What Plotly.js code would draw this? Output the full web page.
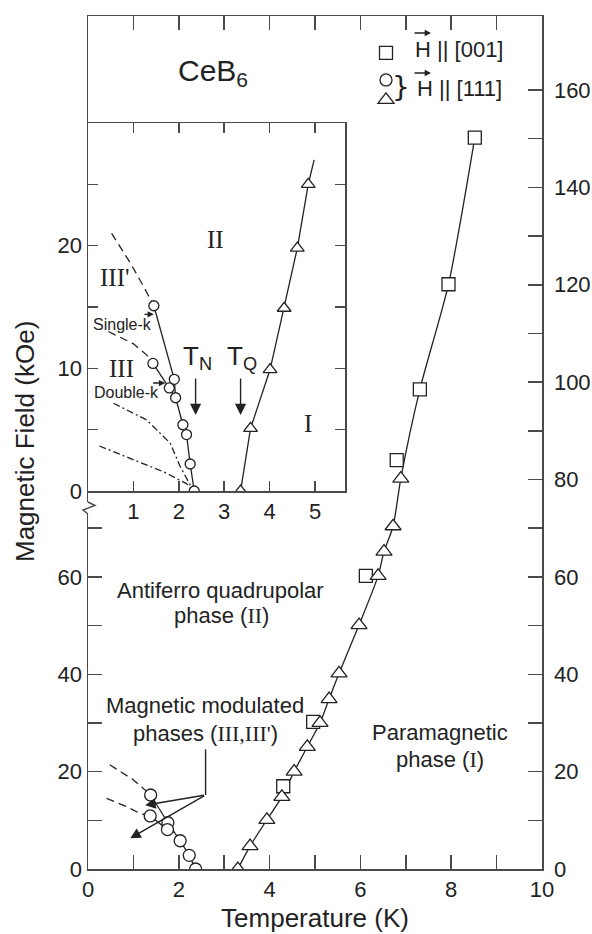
<!DOCTYPE html>
<html><head><meta charset="utf-8">
<script src="https://cdn.plot.ly/plotly-3.0.1.min.js"></script>
<style>body{margin:0;background:#fff}</style>
</head><body><div id="chart" style="width:592px;height:934px"></div>
<script>
// ---------- main panel (Temperature K, Field kOe) ----------
const sqT  = [4.30, 4.96, 6.12, 6.80, 7.31, 7.94, 8.52];          // H || [001]
const sqH  = [17.0, 30.2, 60.2, 84.0, 98.5, 120.1, 150.2];
const triT = [3.30, 3.57, 3.94, 4.27, 4.54, 4.83, 5.11, 5.31, 5.53, 5.97, 6.39, 6.52, 6.72, 6.89]; // H || [111]
const triH = [0, 4.7, 10.1, 14.8, 20.0, 25.1, 30.0, 34.9, 40.2, 50.1, 60.2, 65.2, 70.4, 80.2];
const cirT = [1.38, 1.37, 1.76, 1.75, 2.03, 2.23, 2.37];             // H || [111]
const cirH = [15.2, 10.9, 9.5, 8.1, 5.8, 2.8, 0];
// phase boundaries (main)
const tqT  = [3.30, 3.57, 3.94, 4.27, 4.54, 4.83, 5.11, 5.31, 5.53, 5.97, 6.39, 6.52, 6.72, 6.89, 7.31, 7.94, 8.52];
const tqH  = [0, 4.7, 10.1, 14.8, 20.0, 25.1, 30.0, 34.9, 40.2, 50.1, 60.2, 65.2, 70.4, 80.2, 98.5, 120.1, 150.2];
const tnT  = [1.38, 1.76, 2.03, 2.23, 2.37];
const tnH  = [15.2, 9.5, 5.8, 2.8, 0];
const tn2T = [1.37, 1.75, 1.91];
const tn2H = [10.9, 8.1, 7.5];
const dashAT = [0.48, 1.00, 1.26, 1.38];
const dashAH = [21.4, 18.3, 16.2, 15.2];
const dashBT = [0.41, 0.85, 1.15, 1.37];
const dashBH = [14.5, 12.8, 11.4, 10.9];

// ---------- inset (low field) ----------
const inCirT = [1.45, 1.43, 1.90, 1.79, 1.93, 2.09, 2.17, 2.25, 2.34];
const inCirH = [15.1, 10.4, 9.1, 8.4, 7.6, 5.4, 4.6, 2.2, 0];
const inTriT = [3.36, 3.58, 4.01, 4.32, 4.61, 4.85];
const inTriH = [0, 5.1, 9.9, 14.9, 19.8, 25.0];
const inTqT  = [3.36, 3.58, 4.01, 4.32, 4.61, 4.85, 4.98];
const inTqH  = [0, 5.1, 9.9, 14.9, 19.8, 25.0, 27.0];
const inTnT  = [1.45, 1.90, 1.93, 2.09, 2.17, 2.25, 2.34];
const inTnH  = [15.1, 9.1, 7.6, 5.4, 4.6, 2.2, 0];
const inTn2T = [1.43, 1.79, 1.93];
const inTn2H = [10.4, 8.4, 7.6];
const inIIIpT = [0.52, 0.93, 1.22, 1.45];   // III' boundary (dashed)
const inIIIpH = [21.0, 18.6, 16.7, 15.1];
const inSingT = [0.45, 1.00, 1.29, 1.43];   // single-k (dashed)
const inSingH = [13.0, 12.0, 11.1, 10.4];
const inDblAT = [0.56, 1.29, 1.81, 2.03, 2.25, 2.32]; // double-k (dash-dot)
const inDblAH = [7.15, 5.8, 3.9, 2.0, 0.5, 0];
const inDblBT = [0.25, 0.93, 1.66, 2.17, 2.32];
const inDblBH = [3.67, 2.67, 1.57, 0.6, 0];

// ---------- tick labels ----------
const xTickVals = [0,1,2,3,4,5,6,7,8,9,10];
const xTickText = ['0','','2','','4','','6','','8','','10'];
const yLeftVals = [0,10,20,30,40,50,60,70];
const yLeftText = ['0','','20','','40','','60',''];
const yRightVals = [0,10,20,30,40,50,60,70,80,90,100,110,120,130,140,150,160];
const yRightText = ['0','','20','','40','','60','','80','','100','','120','','140','','160'];
const inXVals = [1,2,3,4,5];
const inXText = ['1','2','3','4','5'];
const inYVals = [0,5,10,15,20,25];
const inYText = ['0','','10','','20',''];

const INK = '#222';
const AX = '#4a4a4a';
const SANS = 'Liberation Sans, Arial, sans-serif';
const SERIF = 'Liberation Serif';

function line(x, y, xa, ya, dash, shape) {
  return {x, y, xaxis: xa, yaxis: ya, mode: 'lines', showlegend: false, hoverinfo: 'skip',
          line: {color: INK, width: 1.3, dash: dash || 'solid', shape: shape || 'linear', smoothing: 0.7}};
}
function pts(x, y, xa, ya, sym, size, leg) {
  const t = {x, y, xaxis: xa, yaxis: ya, mode: 'markers', name: ' ', showlegend: !!leg, hoverinfo: 'skip',
          marker: {symbol: sym, size: size, color: 'white', line: {color: INK, width: 1.3}}};
  if (leg) t.legend = leg;
  return t;
}
const DASH = '8px,5px';
const DASHDOT = '7px,3px,2px,3px';

const traces = [
  line(tqT, tqH, 'x', 'y', 'solid', 'spline'),
  line(tnT, tnH, 'x', 'y'),
  line(tn2T, tn2H, 'x', 'y'),
  line(dashAT, dashAH, 'x', 'y', DASH),
  line(dashBT, dashBH, 'x', 'y', DASH),
  pts(sqT, sqH, 'x', 'y', 'square', 13, 'legend'),
  pts(cirT, cirH, 'x', 'y', 'circle', 12, 'legend2'),
  pts(triT, triH, 'x', 'y', 'triangle-up', 14, 'legend2'),
  line(inTqT, inTqH, 'x2', 'y2'),
  line(inTnT, inTnH, 'x2', 'y2'),
  line(inTn2T, inTn2H, 'x2', 'y2'),
  line(inIIIpT, inIIIpH, 'x2', 'y2', DASH),
  line(inSingT, inSingH, 'x2', 'y2', DASH),
  line(inDblAT, inDblAH, 'x2', 'y2', DASHDOT),
  line(inDblBT, inDblBH, 'x2', 'y2', DASHDOT),
  pts(inTriT, inTriH, 'x2', 'y2', 'triangle-up', 12),
  pts(inCirT, inCirH, 'x2', 'y2', 'circle', 10),
  {x: [null], y: [null], xaxis: 'x3', yaxis: 'y3', mode: 'markers', showlegend: false, hoverinfo: 'skip'}
];

// pixel helpers for paper positions of decorations (plot area 88..542 x 16..869)
const PX = p => (p - 88) / 454;
const PY = p => (869 - p) / 853;

const axBase = {showline: true, linecolor: AX, linewidth: 1.5, ticks: 'inside', tickcolor: AX,
                tickwidth: 1.5, showgrid: false, zeroline: false, tickmode: 'array',
                tickfont: {family: SANS, size: 22, color: INK}, fixedrange: true};

const roman = s => `<span style="font-family:${SERIF}">${s}</span>`;

function txt(x, y, text, size, xref, yref, extra) {
  return Object.assign({x, y, xref: xref || 'x', yref: yref || 'y', text, showarrow: false,
    xanchor: 'center', yanchor: 'middle',
    font: {family: SANS, size: size, color: INK}}, extra || {});
}
function arrow(x, y, ax, ay, xref, yref, size) {
  return {x, y, ax, ay, xref, yref, axref: xref, ayref: yref, text: '', showarrow: true,
          arrowhead: 2, arrowsize: size || 1.6, arrowwidth: 1.4, arrowcolor: INK, standoff: 0};
}
function pxArrow(x, y, ax, ay) {
  return {x, y, ax, ay, xref: 'paper', yref: 'paper', text: '', showarrow: true,
          arrowhead: 2, arrowsize: 0.9, arrowwidth: 1.4, arrowcolor: INK, standoff: 0};
}

const annotations = [
  // main labels
  txt(2.91, 57.3, 'Antiferro quadrupolar', 22),
  txt(2.95, 52.0, 'phase (' + roman('II') + ')', 22),
  txt(2.58, 33.5, 'Magnetic modulated', 22),
  txt(2.58, 27.9, 'phases (' + roman("III,III'") + ')', 22),
  txt(7.75, 28.0, 'Paramagnetic', 22),
  txt(7.75, 22.4, 'phase (' + roman('I') + ')', 22),
  arrow(1.26, 13.1, 2.59, 15.2, 'x', 'y', 1.5),
  arrow(0.93, 6.3, 2.59, 15.2, 'x', 'y', 1.5),
  // CeB6 and legend text
  txt(PX(213), PY(72), 'CeB<sub>6</sub>', 30, 'paper', 'paper'),
  txt(PX(459), PY(50), 'H || [001]', 22, 'paper', 'paper'),
  txt(PX(459), PY(88), 'H || [111]', 22, 'paper', 'paper'),
  txt(PX(401), PY(87), '}', 30, 'paper', 'paper', {font: {family: 'DejaVu Sans', size: 28, color: INK}}),
  pxArrow(PX(431), PY(33), -18, 0),
  pxArrow(PX(431), PY(73), -18, 0),
  // y title
  txt(PX(25), PY(442), 'Magnetic Field (kOe)', 26, 'paper', 'paper', {textangle: -90}),
  // inset labels
  txt(2.80, 20.5, roman('II'), 25, 'x2', 'y2'),
  txt(0.59, 17.4, roman("III'"), 25, 'x2', 'y2'),
  txt(0.73, 10.0, roman('III'), 25, 'x2', 'y2'),
  txt(4.85, 5.5, roman('I'), 25, 'x2', 'y2'),
  txt(0.76, 13.6, 'Single-k', 16, 'x2', 'y2'),
  txt(0.85, 8.0, 'Double-k', 16, 'x2', 'y2'),
  arrow(1.45, 14.4, 1.21, 14.4, 'x2', 'y2', 0.9),
  arrow(1.70, 8.8, 1.40, 8.8, 'x2', 'y2', 0.9),
  txt(2.42, 10.9, 'T<sub>N</sub>', 26, 'x2', 'y2'),
  txt(3.39, 10.9, 'T<sub>Q</sub>', 26, 'x2', 'y2'),
  arrow(2.37, 6.2, 2.37, 9.3, 'x2', 'y2', 1.6),
  arrow(3.36, 6.2, 3.36, 9.3, 'x2', 'y2', 1.6)
];

const shapes = [
  // vertical leader for "Magnetic modulated phases"
  {type: 'line', xref: 'x', yref: 'y', x0: 2.59, x1: 2.59, y0: 15.2, y1: 24.6, line: {color: INK, width: 1.4}},
  // axis break on left axis
  {type: 'rect', xref: 'paper', yref: 'paper', x0: PX(80), x1: PX(97), y0: PY(514), y1: PY(502),
   fillcolor: 'white', line: {width: 0}, layer: 'above'},
  {type: 'path', xref: 'paper', yref: 'paper', layer: 'above',
   path: `M ${PX(88)} ${PY(502)} L ${PX(95)} ${PY(505.5)} L ${PX(83)} ${PY(510)} L ${PX(88)} ${PY(514)}`,
   line: {color: AX, width: 1.4}}
];

const layout = {
  width: 592, height: 934,
  margin: {l: 88, r: 50, t: 16, b: 65},
  paper_bgcolor: 'white', plot_bgcolor: 'white',
  font: {family: SANS, color: INK},
  xaxis: Object.assign({}, axBase, {range: [0, 10], domain: [0, 1], anchor: 'y', mirror: 'ticks',
          tickvals: xTickVals, ticktext: xTickText, ticklen: 14,
          title: {text: 'Temperature (K)', font: {family: SANS, size: 26, color: INK}, standoff: 8}}),
  yaxis: Object.assign({}, axBase, {range: [0, 175.2], domain: [0, 1], anchor: 'x',
          tickvals: yLeftVals, ticktext: yLeftText, ticklen: 14}),
  xaxis3: Object.assign({}, axBase, {range: [0, 10], overlaying: 'x', anchor: 'y3', side: 'bottom',
          showline: false, ticks: '', showticklabels: false}),
  yaxis3: Object.assign({}, axBase, {range: [0, 175.2], overlaying: 'y', anchor: 'x3', side: 'right',
          tickvals: yRightVals, ticktext: yRightText, ticklen: 14, ticklabelstandoff: 6}),
  xaxis2: Object.assign({}, axBase, {range: [0, 5.66], domain: [0, PX(345)], anchor: 'y2', mirror: 'ticks',
          tickvals: inXVals, ticktext: inXText, ticklen: 10}),
  yaxis2: Object.assign({}, axBase, {range: [0, 30], domain: [PY(491), PY(123)], anchor: 'x2', mirror: 'ticks',
          tickvals: inYVals, ticktext: inYText, ticklen: 10}),
  legend: {x: PX(366), y: PY(38), xanchor: 'left', yanchor: 'top', bgcolor: 'rgba(0,0,0,0)',
           font: {size: 13}, itemwidth: 30},
  legend2: {x: PX(366), y: PY(65), xanchor: 'left', yanchor: 'top', bgcolor: 'rgba(0,0,0,0)',
           font: {size: 13}, itemwidth: 30, tracegroupgap: 0},
  annotations, shapes
};

Plotly.newPlot('chart', traces, layout, {staticPlot: true});
</script></body></html>
